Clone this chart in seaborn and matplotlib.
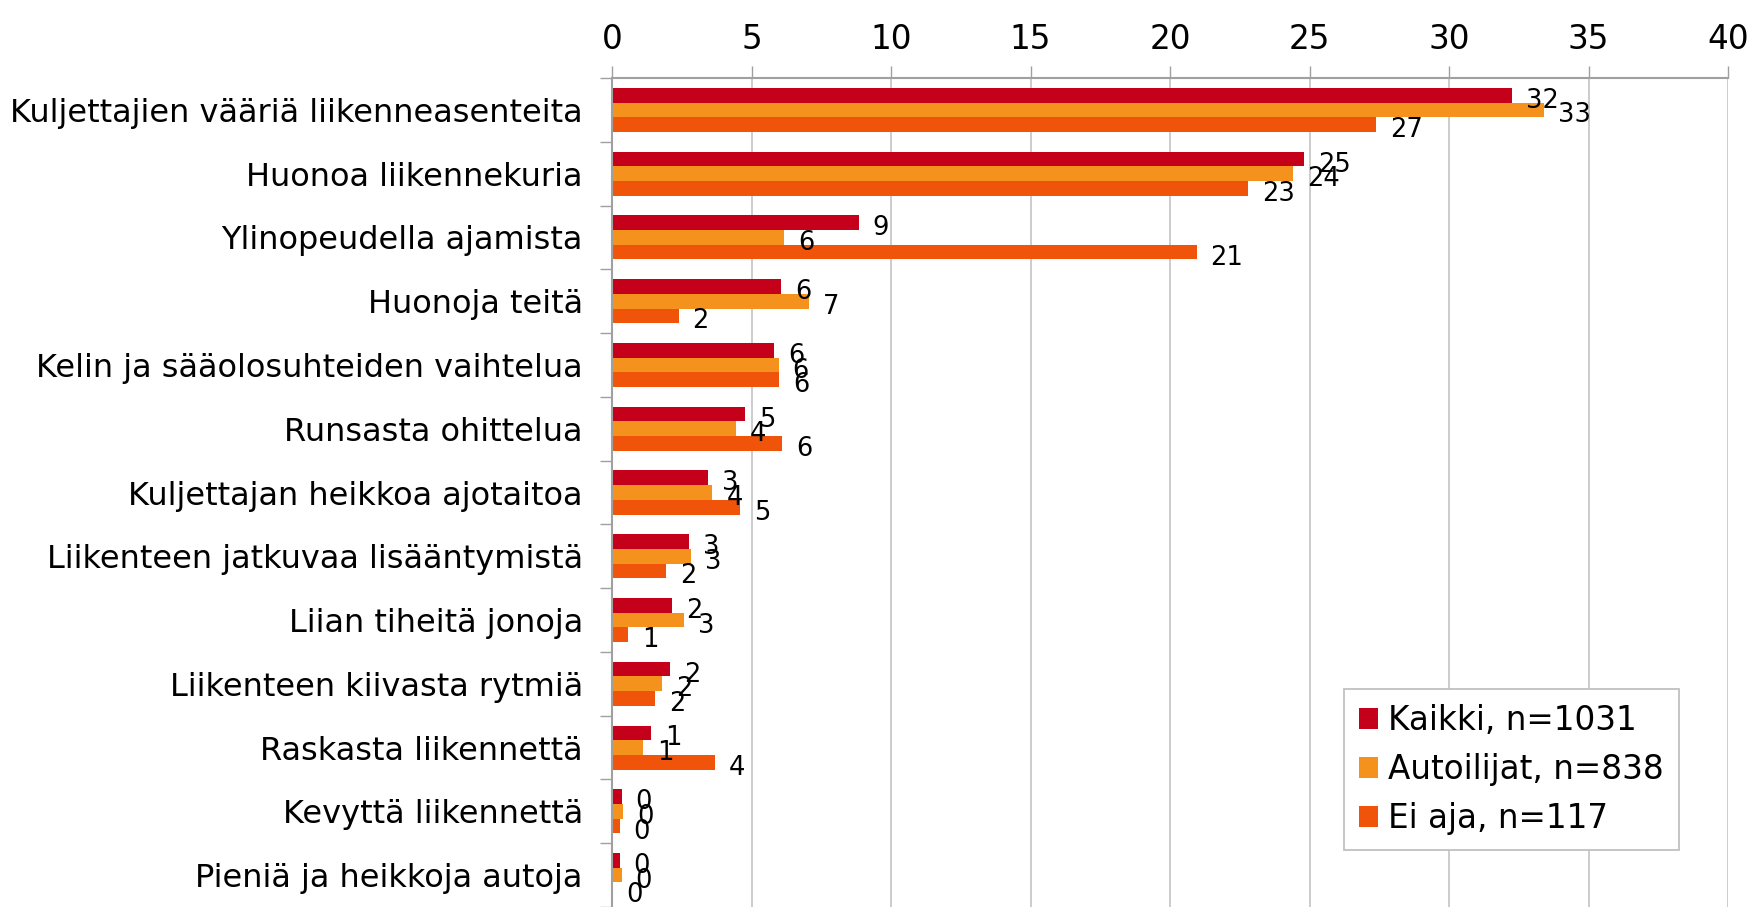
import matplotlib
matplotlib.use("Agg")
import matplotlib.pyplot as plt
import seaborn as sns
import pandas as pd
import numpy as np

categories = [
    "Kuljettajien vääriä liikenneasenteita",
    "Huonoa liikennekuria",
    "Ylinopeudella ajamista",
    "Huonoja teitä",
    "Kelin ja sääolosuhteiden vaihtelua",
    "Runsasta ohittelua",
    "Kuljettajan heikkoa ajotaitoa",
    "Liikenteen jatkuvaa lisääntymistä",
    "Liian tiheitä jonoja",
    "Liikenteen kiivasta rytmiä",
    "Raskasta liikennettä",
    "Kevyttä liikennettä",
    "Pieniä ja heikkoja autoja",
]
series = ["Kaikki, n=1031", "Autoilijat, n=838", "Ei aja, n=117"]
kaikki = [32.25, 24.8, 8.85, 6.06, 5.81, 4.78, 3.45, 2.75, 2.15, 2.08, 1.39, 0.35, 0.28]
autoilijat = [33.4, 24.4, 6.17, 7.05, 5.98, 4.45, 3.6, 2.83, 2.58, 1.81, 1.11, 0.41, 0.35]
ei_aja = [27.4, 22.8, 20.95, 2.39, 6.0, 6.11, 4.6, 1.94, 0.58, 1.55, 3.7, 0.27, 0.0]
colors = ["#C4001A", "#F5921E", "#F0540A"]
x_ticks = [0, 5, 10, 15, 20, 25, 30, 35, 40]

rows = []
for name, vals in zip(series, [kaikki, autoilijat, ei_aja]):
    for c, v in zip(categories, vals):
        rows.append({"Syy": c, "Ryhmä": name, "Arvo": v})
df = pd.DataFrame(rows)

sns.set_theme(style="white")
plt.rcParams["font.family"] = ["DejaVu Sans"]
plt.rcParams["text.color"] = "black"

fig = plt.figure(figsize=(17.52, 9.07), dpi=100)
ax = fig.add_axes([612 / 1752, 0.0, (1728 - 612) / 1752, 1 - 78 / 907])

sns.barplot(data=df, y="Syy", x="Arvo", hue="Ryhmä", order=categories,
            hue_order=series, palette=colors, orient="h", width=0.69,
            saturation=1, ax=ax, legend=True, edgecolor="none")

for cont, vals in zip(ax.containers, [kaikki, autoilijat, ei_aja]):
    anns = ax.bar_label(cont, labels=["%d" % int(v + 0.5) for v in vals], padding=11,
                        fontsize=18.5, color="black")
    for a in anns:
        a.xyann = (10, -4)

ax.set_xlim(0, 40)
ax.set_ylim(len(categories) - 0.5, -0.5)
ax.xaxis.tick_top()
ax.set_xticks(x_ticks)
ax.set_xticklabels([str(t) for t in x_ticks], fontsize=23.5, color="black")
ax.tick_params(axis="x", which="major", top=True, bottom=False, length=9,
               width=1, color="#a0a0a0", pad=7)
ax.set_yticks(range(len(categories)))
ax.set_yticklabels(categories, fontsize=23, color="black")
ax.set_yticks(np.arange(-0.5, len(categories), 1.0), minor=True)
ax.tick_params(axis="y", which="major", length=0, pad=21)
ax.tick_params(axis="y", which="minor", left=True, length=9, width=1, color="#a0a0a0")
ax.set_xlabel("")
ax.set_ylabel("")

ax.grid(axis="x", color="#c8c8c8", linewidth=1.3)
ax.grid(axis="y", visible=False)
ax.set_axisbelow(True)
for s in ["right", "bottom"]:
    ax.spines[s].set_visible(False)
for s in ["top", "left"]:
    ax.spines[s].set_color("#a0a0a0")
    ax.spines[s].set_linewidth(1.5)

handles, labels = ax.get_legend_handles_labels()
leg = ax.legend(handles, labels, loc="upper left",
                bbox_to_anchor=(1344 / 1752, 1 - 689 / 907),
                bbox_transform=fig.transFigure, fontsize=23.5, frameon=True,
                fancybox=False, edgecolor="#c0c0c0", framealpha=1,
                handlelength=0.6, handleheight=0.6, handletextpad=0.3,
                labelspacing=0.5, borderpad=0.45, borderaxespad=0)
leg.get_frame().set_linewidth(1.3)
for t in leg.get_texts():
    t.set_color("black")

fig.savefig("out.png", dpi=100)
